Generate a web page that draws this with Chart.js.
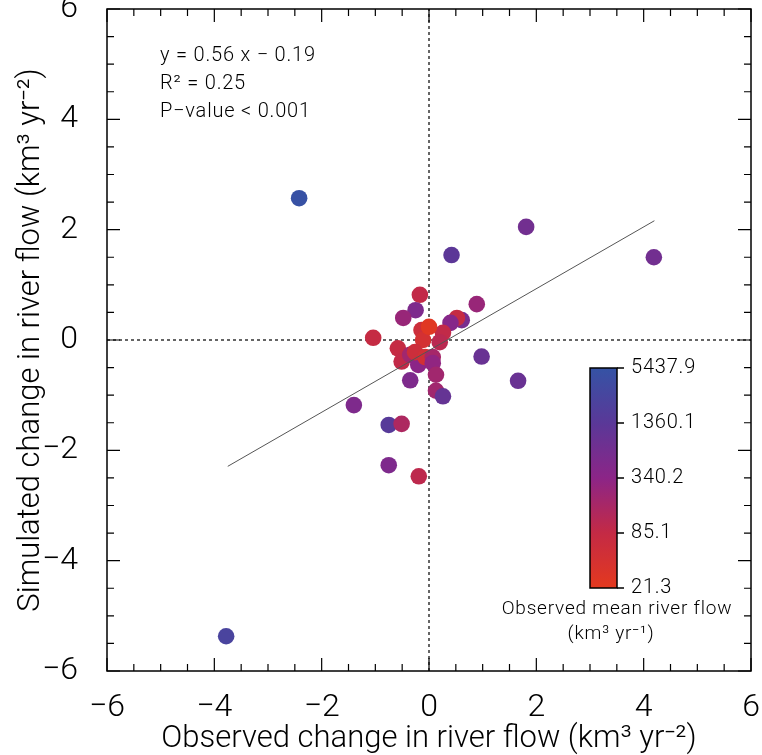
<!DOCTYPE html>
<html>
<head>
<meta charset="utf-8">
<script src="https://cdn.jsdelivr.net/npm/chart.js@4.4.1/dist/chart.umd.min.js"></script>
<style>
  html, body { margin: 0; padding: 0; background: #fff; }
  #wrap { width: 762px; height: 755px; }
</style>
</head>
<body>
<div id="wrap"><canvas id="scatter" width="762" height="755"></canvas></div>
<script>
// observed vs simulated change in river flow (km3 yr-2), and mean observed flow (km3 yr-1)
const observed = [-2.42, -3.78, 1.81, 0.42, 4.19, -0.17, 0.89, -0.25, -0.48, 0.61,
  0.52, 0.40, -1.04, -0.14, -0.11, 0.26, 0.20, -0.58, -0.51, -0.35,
  -0.20, -0.26, -0.07, 0.07, 0.07, 0.98, -0.35, 0.13, 1.66, 0.13,
  0.26, -1.40, -0.75, -0.51, -0.75, -0.19, 0.00];
const simulated = [2.57, -5.37, 2.05, 1.54, 1.50, 0.82, 0.65, 0.54, 0.40, 0.36,
  0.40, 0.31, 0.04, 0.18, 0.00, 0.13, -0.04, -0.15, -0.39, -0.27,
  -0.45, -0.22, -0.31, -0.31, -0.42, -0.30, -0.73, -0.63, -0.74, -0.92,
  -1.02, -1.18, -1.54, -1.52, -2.27, -2.47, 0.24];
const meanFlow = [5000, 2500, 700, 1300, 700, 90, 250, 500, 250, 600,
  80, 400, 80, 60, 45, 90, 110, 80, 90, 200,
  350, 60, 50, 180, 300, 900, 500, 200, 900, 200,
  1000, 500, 1500, 150, 500, 100, 25];

const axisTicks = [-6, -4, -2, 0, 2, 4, 6];
const colorTicks = [21.3, 85.1, 340.2, 1360.1, 5437.9];
const fit = { slope: 0.56, intercept: -0.19, xFrom: -3.75, xTo: 4.2 };
const notes = ['y = 0.56 x \u2212 0.19', 'R\u00b2 = 0.25', 'P\u2212value < 0.001'];

// colour ramp sampled from the colour bar (log scale, bottom to top)
const ramp = [[228, 57, 30], [196, 42, 69], [140, 37, 135], [90, 56, 152], [53, 83, 165]];
const fMin = colorTicks[0], fMax = colorTicks[colorTicks.length - 1];
function flowColor(v) {
  let t = (Math.log(v) - Math.log(fMin)) / (Math.log(fMax) - Math.log(fMin));
  t = Math.max(0, Math.min(1, t)) * (ramp.length - 1);
  const i = Math.min(ramp.length - 2, Math.floor(t)), f = t - i;
  const c = ramp[i].map((a, k) => Math.round(a + (ramp[i + 1][k] - a) * f));
  return 'rgb(' + c.join(',') + ')';
}

const FONT = 'Roboto, "Liberation Sans", sans-serif';
const minus = v => String(v).replace('-', '\u2212');

const points = observed.map((x, i) => ({ x: x, y: simulated[i] }));
const fitLine = [fit.xFrom, fit.xTo].map(x => ({ x: x, y: fit.slope * x + fit.intercept }));

// box with inward ticks, notes and the colour bar
const decor = {
  id: 'decor',
  afterDraw(chart) {
    const { ctx, chartArea: a, scales: { x, y } } = chart;
    ctx.save();
    ctx.strokeStyle = '#000';
    ctx.lineWidth = 1.5;
    ctx.strokeRect(a.left, a.top, a.right - a.left, a.bottom - a.top);
    ctx.lineWidth = 1.2;
    ctx.beginPath();
    for (let v = -6; v <= 6.001; v += 0.5) {
      const len = Math.abs(v % 2) < 0.01 ? 13 : 7;
      const px = x.getPixelForValue(v), py = y.getPixelForValue(v);
      ctx.moveTo(px, a.bottom); ctx.lineTo(px, a.bottom - len);
      ctx.moveTo(px, a.top); ctx.lineTo(px, a.top + len);
      ctx.moveTo(a.left, py); ctx.lineTo(a.left + len, py);
      ctx.moveTo(a.right, py); ctx.lineTo(a.right - len, py);
    }
    ctx.stroke();

    ctx.fillStyle = '#000';
    ctx.font = '300 20px ' + FONT;
    ctx.letterSpacing = '0.8px';
    ctx.textBaseline = 'middle';
    ctx.textAlign = 'left';
    notes.forEach((t, i) => ctx.fillText(t, 160, 56 + i * 28));

    // colour bar
    const bx = 590, bw = 27, top = 368, bot = 588;
    const g = ctx.createLinearGradient(0, bot, 0, top);
    ramp.forEach((c, i) => g.addColorStop(i / (ramp.length - 1), 'rgb(' + c.join(',') + ')'));
    ctx.fillStyle = g;
    ctx.fillRect(bx, top, bw, bot - top);
    ctx.lineWidth = 1.5;
    ctx.strokeRect(bx, top, bw, bot - top);
    ctx.fillStyle = '#000';
    ctx.font = '300 20px ' + FONT;
    ctx.beginPath();
    colorTicks.forEach((v, i) => {
      const py = bot - (bot - top) * i / (colorTicks.length - 1);
      ctx.moveTo(bx + bw, py); ctx.lineTo(bx + bw + 7, py);
      ctx.fillText(v.toFixed(1), bx + bw + 14, py);
    });
    ctx.stroke();
    ctx.textAlign = 'center';
    ctx.font = '300 19px ' + FONT;
    ctx.fillText('Observed mean river flow', 617, 609);
    ctx.fillText('(km\u00b3 yr\u207b\u00b9)', 611, 634);
    ctx.restore();
  }
};

new Chart(document.getElementById('scatter'), {
  type: 'scatter',
  data: {
    datasets: [
      { type: 'line', data: fitLine, borderColor: '#555', borderWidth: 1, pointRadius: 0, order: 0 },
      { data: points, backgroundColor: meanFlow.map(flowColor), pointRadius: 8.3, borderWidth: 0, order: 1 },
      { type: 'line', data: [{ x: -6, y: 0 }, { x: 6, y: 0 }], borderColor: '#000', borderWidth: 1.2,
        borderDash: [3, 3], pointRadius: 0, order: 2 },
      { type: 'line', data: [{ x: 0, y: -6 }, { x: 0, y: 6 }], borderColor: '#000', borderWidth: 1.2,
        borderDash: [3, 3], pointRadius: 0, order: 2 }
    ]
  },
  options: {
    responsive: false,
    animation: false,
    layout: { padding: { top: 9, right: 11, left: 0, bottom: 0 } },
    plugins: { legend: { display: false }, tooltip: { enabled: false } },
    scales: {
      x: {
        type: 'linear', min: -6, max: 6,
        afterBuildTicks: s => { s.ticks = axisTicks.map(v => ({ value: v })); },
        afterFit: s => { s.height = 84; s.paddingLeft = 0; s.paddingRight = 0; },
        grid: { display: false }, border: { display: false },
        ticks: { color: '#000', padding: 10, maxRotation: 0, font: { family: FONT, size: 32, weight: 300 }, callback: minus },
        title: { display: true, text: 'Observed change in river flow (km\u00b3 yr\u207b\u00b2)', color: '#000',
          padding: { top: 0, bottom: -3 }, font: { family: FONT, size: 31, weight: 300 } }
      },
      y: {
        type: 'linear', min: -6, max: 6,
        afterBuildTicks: s => { s.ticks = axisTicks.map(v => ({ value: v })); },
        afterFit: s => { s.width = 107; s.paddingTop = 0; s.paddingBottom = 0; },
        grid: { display: false }, border: { display: false },
        ticks: { color: '#000', padding: 21, font: { family: FONT, size: 32, weight: 300 }, callback: minus },
        title: { display: true, text: 'Simulated change in river flow (km\u00b3 yr\u207b\u00b2)', color: '#000',
          padding: { top: 13, bottom: 0 }, font: { family: FONT, size: 31, weight: 300 } }
      }
    }
  },
  plugins: [decor]
});
</script>
</body>
</html>
